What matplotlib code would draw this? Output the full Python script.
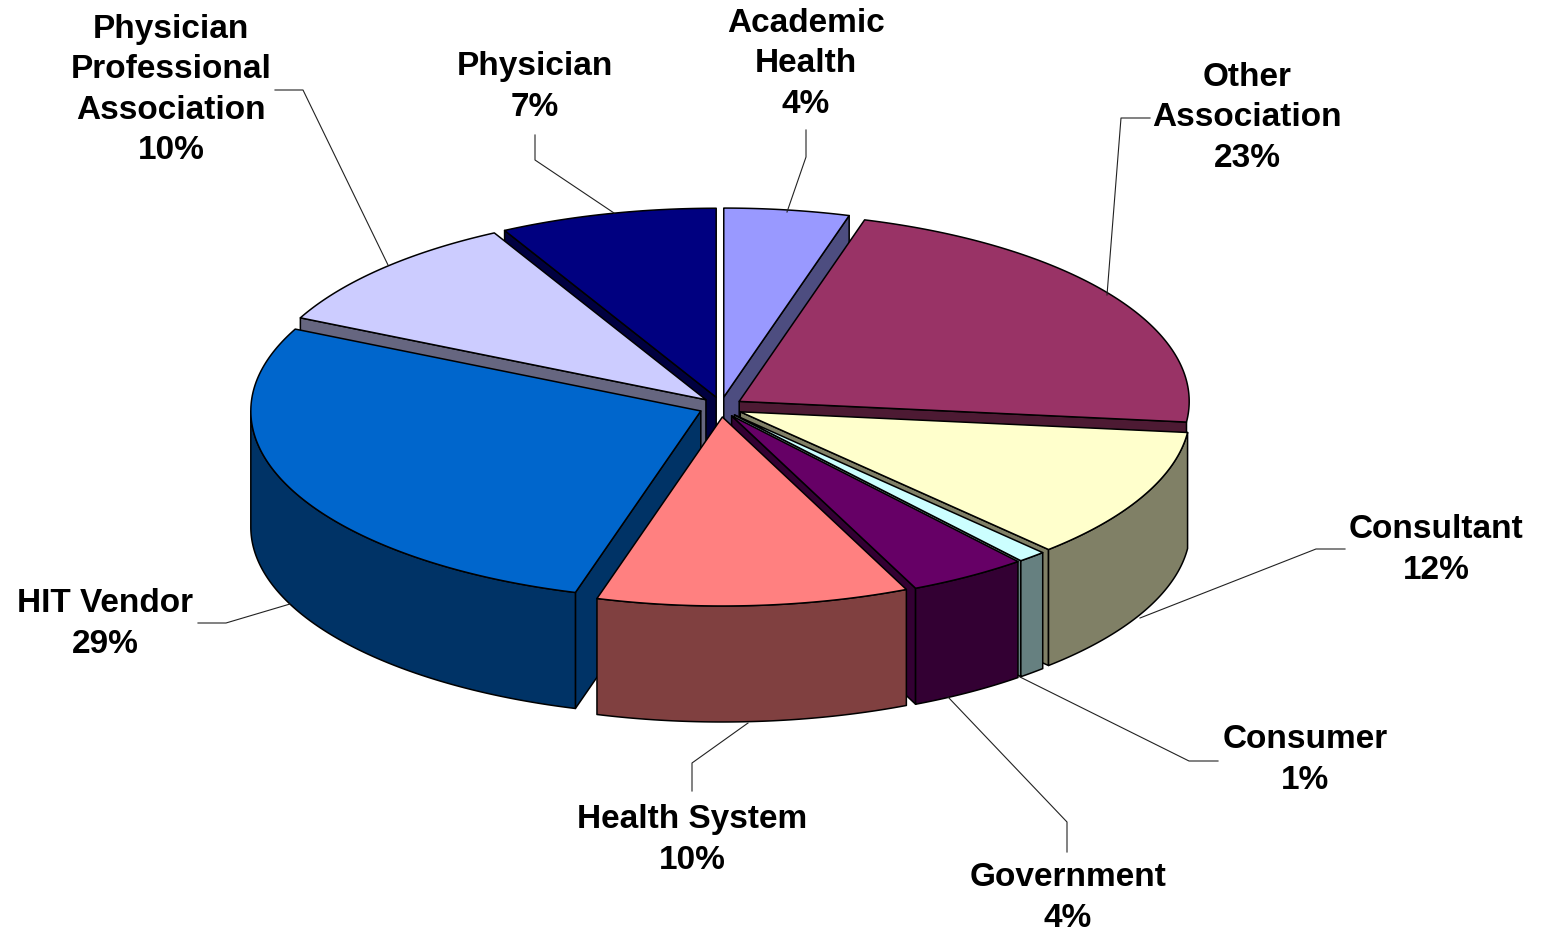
import numpy as np
import matplotlib
matplotlib.use('Agg')
import matplotlib.pyplot as plt
from matplotlib.patches import Polygon

labels = ['Academic\nHealth', 'Other\nAssociation', 'Consultant', 'Consumer', 'Government',
          'Health System', 'HIT Vendor', 'Physician\nProfessional\nAssociation', 'Physician']
shares = [4, 23, 12, 1, 4, 10, 29, 10, 7]
top_colors = ['#9999FF', '#993366', '#FFFFCC', '#CCFFFF', '#660066',
              '#FF8080', '#0066CC', '#CCCCFF', '#000080']
side_colors = ['#4D4D80', '#4D1A33', '#808066', '#668080', '#330033',
               '#804040', '#003366', '#666680', '#000040']

label_xy = [(806, 64), (1247, 118), (1436, 550), (1305, 760), (1068, 898),
            (692, 840), (105, 624), (171, 90), (535, 87)]
leaders = [[(806, 130), (806, 157), (787, 212)],
           [(1150, 118), (1121, 118), (1107, 295)],
           [(1345, 549), (1316, 549), (1140, 618)],
           [(1218, 761), (1189, 761), (1020, 677)],
           [(1067, 852), (1067, 822), (948, 697)],
           [(692, 791), (692, 763), (748, 723)],
           [(198, 623), (226, 623), (290, 604)],
           [(275, 90), (303, 90), (388, 265)],
           [(535, 135), (535, 160), (614, 213)]]

# pie geometry in pixels
cx, cy = 721, 407
rx, ry = 450, 189
depth = 116
ex, ey = 22, 10
warp = 3.7  # degrees, the tilted view pulls slice edges toward the sides


def view_angle(deg):
    return deg + warp * np.sin(np.radians(2 * deg))


def rim(a, b, ox, oy):
    t = np.radians(np.linspace(a, b, 120))
    return np.column_stack([ox + rx * np.sin(t), oy - ry * np.cos(t)])


fig = plt.figure(figsize=(15.41, 9.33), dpi=100)
ax = fig.add_axes([0, 0, 1, 1])
ax.set_xlim(0, 1541)
ax.set_ylim(933, 0)
ax.axis('off')

edges = np.cumsum([0] + shares) * 3.6
mids = (edges[:-1] + edges[1:]) / 2

# back slices first
for i in np.argsort(-np.cos(np.radians(mids))):
    a, b, m = view_angle(edges[i]), view_angle(edges[i + 1]), np.radians(mids[i])
    ox, oy = cx + ex * np.sin(m), cy - ey * np.cos(m)
    kw = dict(edgecolor='black', linewidth=1.1, joinstyle='round')
    drop = np.array([0, depth])
    apex = np.array([ox, oy])

    # cut faces that look toward the viewer
    for ang, show in ((b, 0 < b < 180), (a, 180 < a < 360)):
        if show:
            p = rim(ang, ang, ox, oy)[0]
            ax.add_patch(Polygon([apex, p, p + drop, apex + drop], facecolor=side_colors[i], **kw))

    # outer wall, front half only (a sliver past the side is hidden by the next slice)
    lo, hi = max(a, 90), min(b, 270)
    if lo < hi and not (a < 90 and b - 90 < 10):
        r = rim(lo, hi, ox, oy)
        ax.add_patch(Polygon(np.vstack([r, (r + drop)[::-1]]), facecolor=side_colors[i], **kw))

    ax.add_patch(Polygon(np.vstack([apex, rim(a, b, ox, oy)]), facecolor=top_colors[i], **kw))

for i, name in enumerate(labels):
    ax.text(label_xy[i][0], label_xy[i][1], f'{name}\n{shares[i]}%', ha='center', va='center',
            fontsize=24, fontweight='bold', family='Liberation Sans', linespacing=1.38, color='black')
    xs, ys = zip(*leaders[i])
    ax.plot(xs, ys, color='#222222', lw=0.8)

fig.savefig('out.png', dpi=100, facecolor='white')
